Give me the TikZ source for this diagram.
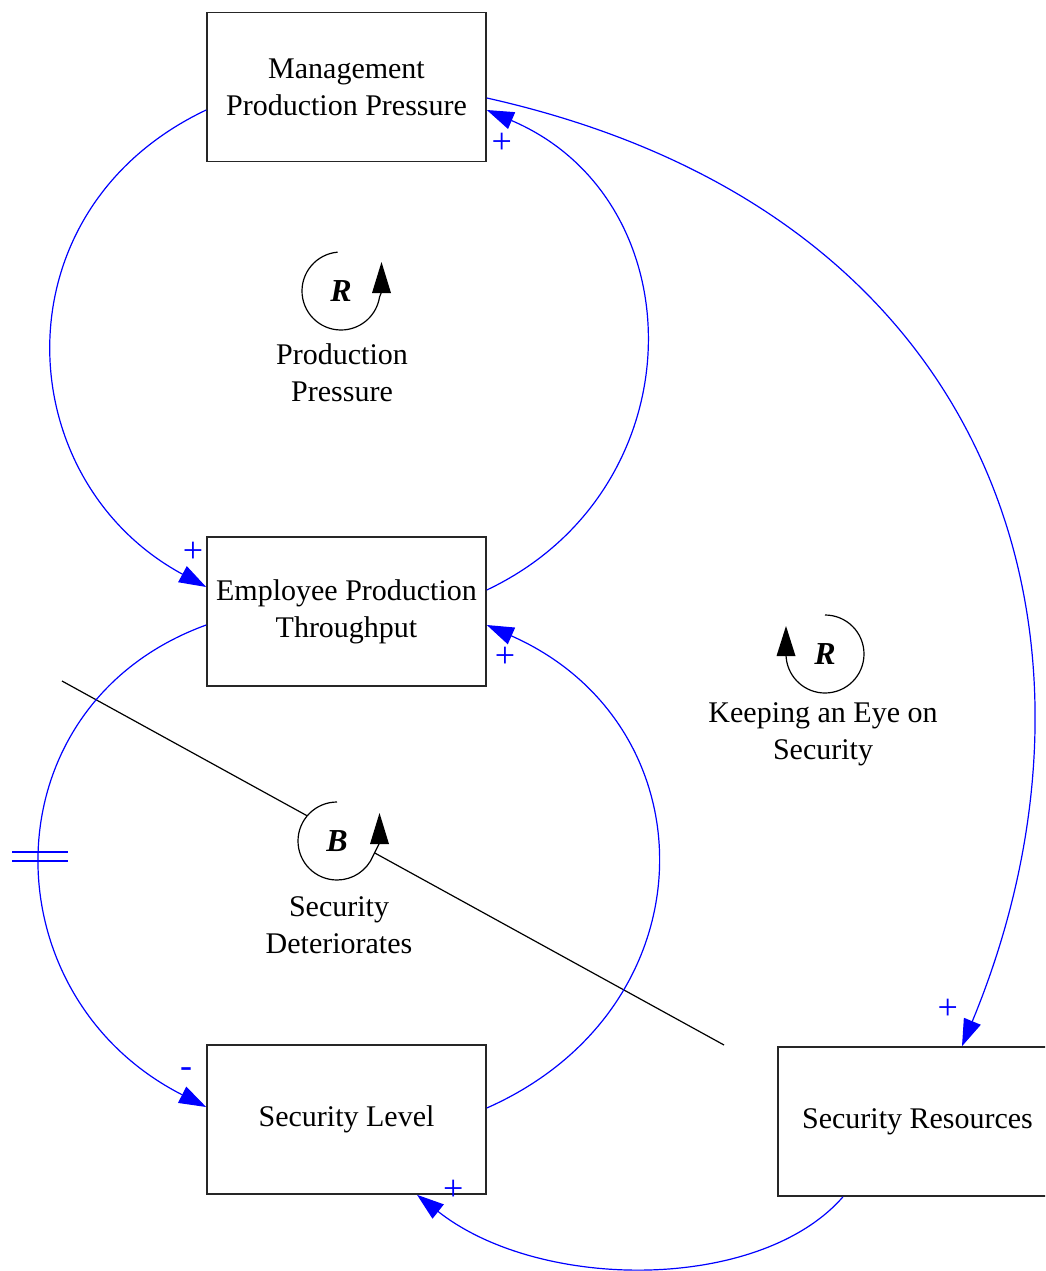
\documentclass[tikz,border=0pt]{standalone}
\usepackage{fontspec}
\setmainfont{Liberation Serif}
\usetikzlibrary{arrows.meta}
\begin{document}
\begin{tikzpicture}[x=1pt,y=-1pt,
  box/.style={draw=black!85,line width=1.6pt,minimum width=279pt,minimum height=149pt,inner sep=0pt,align=center,font=\fontsize{30}{37}\selectfont},
  link/.style={draw=blue,line width=1.2pt,-{Triangle[length=27pt,width=18pt]}},
  pol/.style={text=blue,font=\fontsize{36}{36}\selectfont,inner sep=0pt},
  lbl/.style={align=center,font=\fontsize{30}{37}\selectfont,inner sep=0pt},
  loopsym/.style={font=\fontsize{32}{32}\selectfont\bfseries\itshape,inner sep=0pt},
  loopline/.style={draw=black,line width=1.2pt},
  looptip/.style={fill=black}
]
\useasboundingbox (0,0) rectangle (1045,1271);
\clip (0,0) rectangle (1045,1271);

% boxes
\node[box] (mgmt) at (346.5,87) {Management\\Production Pressure};
\node[box] (emp) at (346.5,611.5) {Employee Production\\Throughput};
\node[box] (sl) at (346.5,1119.5) {Security Level};
\node[box] (sr) at (917.5,1121.5) {Security Resources};

% black line (drawn under the B loop symbol)
\coordinate (la) at (62,681);
\coordinate (lb) at (724,1045);
\draw[black,line width=1.2pt] (la) -- (lb);

% connectors
\draw[link] ([yshift=-23pt]mgmt.west) .. controls (-5,210) and (8,480) .. ([yshift=24.5pt]emp.west);
\draw[link] ([yshift=21.5pt]emp.east) .. controls (698,490) and (698,200) .. ([yshift=-23pt]mgmt.east);
\draw[link] ([yshift=-11pt]mgmt.east) .. controls (1010,215) and (1126,650) .. ([xshift=44.5pt]sr.north);
\draw[link] ([yshift=-13.5pt]emp.west) .. controls (-14,705) and (-14,995) .. ([yshift=12.5pt]sl.west);
\draw[link] ([yshift=11.5pt]sl.east) .. controls (713,1008) and (713,725) .. ([yshift=-13.5pt]emp.east);
\draw[link] ([xshift=-74.5pt]sr.south) .. controls (760,1292) and (540,1292) .. ([xshift=70.5pt]sl.south);

% delay mark
\draw[blue,line width=2pt] (12,852) -- (68,852) (12,861) -- (68,861);

% polarities
\node[pol] (p1) at (501.7,143) {+};
\node[pol] (p2) at (193,552.5) {+};
\node[pol] (p3) at (505,657) {+};
\node[pol] (p4) at (947.7,1009) {+};
\node[pol] (p5) at (453.3,1190.7) {+};
\node[pol] (p6) at (186,1073) {-};

% loop: Production Pressure
\node[loopsym] (r1) at (341,291) {R};
\draw[loopline] (r1.center) ++(95:39pt) arc[start angle=95,end angle=351,radius=39pt] -- (381.5,292);
\fill[looptip] (372,293) -- (381.5,262) -- (391,293) -- cycle;
\node[lbl] (l1) at (342,372.5) {Production\\Pressure};

% loop: Security Deteriorates
\fill[white] (337,841) circle[radius=39pt];
\node[loopsym] (b1) at (337,841) {B};
\draw[loopline] (b1.center) ++(90:39pt) arc[start angle=90,end angle=337,radius=39pt] -- (379.5,843);
\fill[looptip] (370,844) -- (379.5,813) -- (389,844) -- cycle;
\node[lbl] (l2) at (339,925) {Security\\Deteriorates};

% loop: Keeping an Eye on Security
\node[loopsym] (r2) at (825,654) {R};
\draw[loopline] (r2.center) ++(90:39pt) arc[start angle=90,end angle=-174,radius=39pt] -- (786,655);
\fill[looptip] (776.5,656) -- (786,626) -- (795.5,656) -- cycle;
\node[lbl] (l3) at (823,734) {Keeping an Eye on\\Security};
\end{tikzpicture}
\end{document}
